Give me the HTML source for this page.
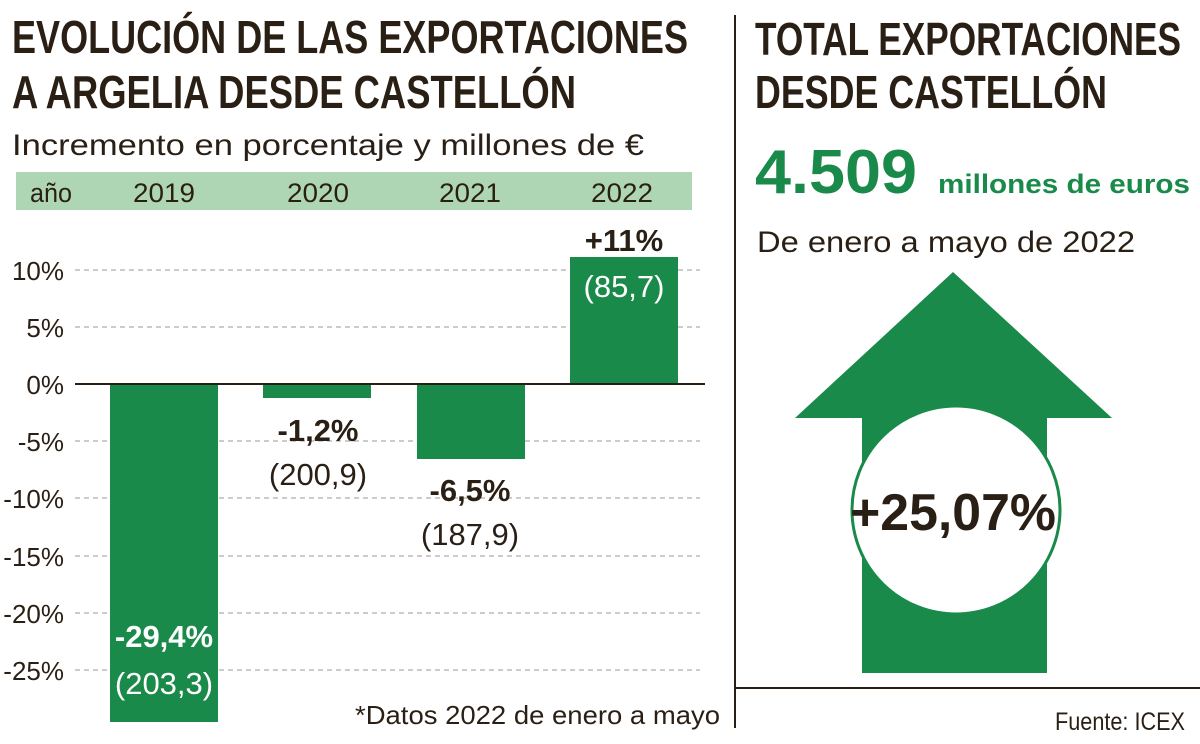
<!DOCTYPE html>
<html><head><meta charset="utf-8"><style>
html,body{margin:0;padding:0;background:#fff;}
svg{display:block;}
text{font-family:"Liberation Sans",sans-serif;fill:#2a1f14;}
</style></head><body>
<svg width="1200" height="744" viewBox="0 0 1200 744">
<!-- Titles -->
<text x="12" y="53" font-size="46" font-weight="bold" textLength="676" lengthAdjust="spacingAndGlyphs">EVOLUCIÓN DE LAS EXPORTACIONES</text>
<text x="12" y="108" font-size="46" font-weight="bold" textLength="564" lengthAdjust="spacingAndGlyphs">A ARGELIA DESDE CASTELLÓN</text>
<text x="12" y="155" font-size="30" textLength="632" lengthAdjust="spacingAndGlyphs">Incremento en porcentaje y millones de €</text>
<!-- band -->
<rect x="16" y="172" width="676" height="38" fill="#aed6b4"/>
<g font-size="27">
<text x="30" y="202" textLength="42" lengthAdjust="spacingAndGlyphs">año</text>
<text x="164" y="202" text-anchor="middle" textLength="62" lengthAdjust="spacingAndGlyphs">2019</text>
<text x="318" y="202" text-anchor="middle" textLength="62" lengthAdjust="spacingAndGlyphs">2020</text>
<text x="470" y="202" text-anchor="middle" textLength="62" lengthAdjust="spacingAndGlyphs">2021</text>
<text x="622" y="202" text-anchor="middle" textLength="62" lengthAdjust="spacingAndGlyphs">2022</text>
</g>
<!-- grid -->
<g stroke="#999" stroke-width="1" stroke-dasharray="5,4">
<line x1="75" y1="270" x2="700" y2="270"/><line x1="75" y1="327" x2="700" y2="327"/>
<line x1="75" y1="441" x2="700" y2="441"/><line x1="75" y1="498" x2="700" y2="498"/>
<line x1="75" y1="556" x2="700" y2="556"/><line x1="75" y1="613" x2="700" y2="613"/>
<line x1="75" y1="670" x2="700" y2="670"/>
</g>
<g font-size="26" text-anchor="end">
<text x="64" y="280">10%</text><text x="64" y="337">5%</text><text x="64" y="394">0%</text>
<text x="64" y="451">-5%</text><text x="64" y="508">-10%</text><text x="64" y="566">-15%</text>
<text x="64" y="623">-20%</text><text x="64" y="680">-25%</text>
</g>
<!-- bars -->
<g fill="#1a8a4a">
<rect x="110" y="384" width="108" height="338"/>
<rect x="263" y="384" width="108" height="14"/>
<rect x="417" y="384" width="108" height="75"/>
<rect x="570" y="257" width="108" height="127"/>
</g>
<line x1="75" y1="384" x2="705" y2="384" stroke="#2a1f14" stroke-width="2"/>
<!-- bar labels -->
<g font-size="31" text-anchor="middle" font-weight="bold">
<text x="164" y="647" style="fill:#fff">-29,4%</text>
<text x="318" y="441">-1,2%</text>
<text x="470" y="501">-6,5%</text>
<text x="624" y="251">+11%</text>
</g>
<g font-size="31" text-anchor="middle">
<text x="164" y="694" style="fill:#fff">(203,3)</text>
<text x="318" y="485">(200,9)</text>
<text x="470" y="545">(187,9)</text>
<text x="624" y="297" style="fill:#fff">(85,7)</text>
</g>
<text x="720" y="724" font-size="26" text-anchor="end" textLength="365" lengthAdjust="spacingAndGlyphs">*Datos 2022 de enero a mayo</text>
<!-- divider -->
<line x1="735" y1="15" x2="735" y2="728" stroke="#2a1f14" stroke-width="2"/>
<line x1="735" y1="688" x2="1200" y2="688" stroke="#2a1f14" stroke-width="2"/>
<!-- right -->
<text x="755" y="55" font-size="46" font-weight="bold" textLength="426" lengthAdjust="spacingAndGlyphs">TOTAL EXPORTACIONES</text>
<text x="755" y="108" font-size="46" font-weight="bold" textLength="352" lengthAdjust="spacingAndGlyphs">DESDE CASTELLÓN</text>
<text x="755" y="193" font-size="62" font-weight="bold" style="fill:#1a8a4a" textLength="162" lengthAdjust="spacingAndGlyphs">4.509</text>
<text x="938" y="193" font-size="27" font-weight="bold" style="fill:#1a8a4a" textLength="252" lengthAdjust="spacingAndGlyphs">millones de euros</text>
<text x="757" y="252" font-size="30" textLength="378" lengthAdjust="spacingAndGlyphs">De enero a mayo de 2022</text>
<polygon points="953,272 1112,418 1047,418 1047,673 862,673 862,418 795,418" fill="#1a8a4a"/>
<circle cx="956" cy="510" r="104" fill="#fff" stroke="#1a8a4a" stroke-width="3"/>
<text x="953" y="530" font-size="52" font-weight="bold" text-anchor="middle" textLength="206" lengthAdjust="spacingAndGlyphs">+25,07%</text>
<text x="1185" y="730" font-size="25" text-anchor="end" textLength="130" lengthAdjust="spacingAndGlyphs">Fuente: ICEX</text>
</svg>
</body></html>
